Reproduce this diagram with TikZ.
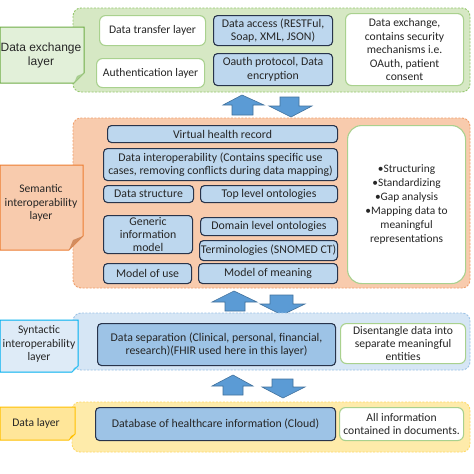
\documentclass[tikz,border=0pt]{standalone}
\usepackage{fontspec}
\setmainfont{Carlito}
\newfontfamily\arialf{Liberation Sans}
\definecolor{txt}{RGB}{38,38,38}
\definecolor{grfill}{RGB}{214,232,196}
\definecolor{grdash}{RGB}{150,200,110}
\definecolor{grlab}{RGB}{226,240,217}
\definecolor{grline}{RGB}{112,173,71}
\definecolor{whline}{RGB}{169,209,142}
\definecolor{orfill}{RGB}{248,203,173}
\definecolor{ordash}{RGB}{240,160,110}
\definecolor{orline}{RGB}{237,125,49}
\definecolor{orfold}{RGB}{210,140,95}
\definecolor{blfill}{RGB}{214,230,245}
\definecolor{bldash}{RGB}{157,195,230}
\definecolor{bllab}{RGB}{222,235,247}
\definecolor{blline}{RGB}{0,176,240}
\definecolor{ylfill}{RGB}{254,235,170}
\definecolor{yldash}{RGB}{255,217,102}
\definecolor{yllab}{RGB}{255,230,153}
\definecolor{ylline}{RGB}{255,192,0}
\definecolor{boxblue}{RGB}{189,215,238}
\definecolor{boxblue2}{RGB}{157,195,230}
\definecolor{boxline}{RGB}{40,52,75}
\definecolor{arrfill}{RGB}{91,155,213}
\definecolor{arrline}{RGB}{65,113,156}
\tikzset{
  cont/.style={rounded corners=8pt, line width=0.9pt, dash pattern=on 2pt off 1.5pt},
  bbox/.style={draw=boxline, fill=boxblue, rounded corners=4pt, line width=1.1pt, align=center, inner sep=1pt, anchor=north west, text=txt, font=\fontsize{11.8}{13.4}\selectfont},
  bbox2/.style={bbox, fill=boxblue2},
  wbox/.style={draw=whline, fill=white, rounded corners=6pt, line width=1.1pt, align=center, inner sep=1pt, anchor=north west, text=txt, font=\fontsize{11.6}{13.5}\selectfont},
  labtext/.style={align=center, text=txt, font=\fontsize{11.6}{13.5}\selectfont},
  blockarrow/.style={fill=arrfill, draw=arrline, line width=0.6pt, line join=miter}
}
\begin{document}
\begin{tikzpicture}[x=1pt,y=-1pt]
\useasboundingbox (0,0) rectangle (474,474);
\fill[white] (0,0) rectangle (474,474);

% ---------- Data exchange layer ----------
\draw[cont, draw=grdash, fill=grfill] (73,8) rectangle (470,92);
\draw[fill=grlab, draw=grline, line width=1pt] (0,27) -- (84,27) -- (84,73) -- (74,83) -- (0,83) -- cycle;
\fill[grline!60] (84,73) -- (74,83) -- (77,76) -- cycle;
\node[labtext, font=\arialf\fontsize{12}{14}\selectfont] (lab1) at (41,55) {Data exchange\\layer};

\node[wbox, minimum width=106pt, minimum height=30pt] (dtl) at (99,15) {Data transfer layer};
\node[wbox, minimum width=108pt, minimum height=29pt] (auth) at (96,58) {Authentication layer};
\node[bbox, minimum width=119pt, minimum height=30pt] (dacc) at (213,15) {Data access (RESTFul,\\Soap, XML, JSON)};
\node[bbox, minimum width=119pt, minimum height=32pt] (oauth) at (213,53) {Oauth protocol, Data\\encryption};
\node[wbox, minimum width=118pt, minimum height=72pt] (dex) at (345,13) {Data exchange,\\contains security\\mechanisms i.e.\\OAuth, patient\\consent};

% arrows 1
\draw[blockarrow] (242,95) -- (264,105) -- (253,105) -- (253,115) -- (232,115) -- (232,105) -- (223,105) -- cycle;
\draw[blockarrow] (280,97) -- (299,97) -- (299,106) -- (312,106) -- (291,117) -- (269,106) -- (280,106) -- cycle;

% ---------- Semantic layer ----------
\draw[cont, draw=ordash, fill=orfill] (73,118) rectangle (470,288);
\draw[fill=orfill, draw=orline, line width=1pt] (0,165) -- (83,165) -- (83,236) -- (69,250) -- (0,250) -- cycle;
\fill[orfold] (83,236) -- (69,250) -- (73,240) -- cycle;
\node[labtext] (lab2) at (41,203) {Semantic\\interoperability\\layer};

\node[bbox, minimum width=230pt, minimum height=17pt] (vhr) at (107,125) {Virtual health record};
\node[bbox, minimum width=234pt, minimum height=32pt] (dint) at (103,148) {Data interoperability (Contains specific use\\cases, removing conflicts during data mapping)};
\node[bbox, minimum width=90pt, minimum height=17pt] (dstr) at (103,185) {Data structure};
\node[bbox, minimum width=137pt, minimum height=17pt] (top) at (200,185) {Top level ontologies};
\node[bbox, minimum width=89pt, minimum height=38pt] (gim) at (103,215) {Generic\\information\\model};
\node[bbox, minimum width=137pt, minimum height=18pt] (dom) at (200,217) {Domain level ontologies};
\node[bbox, minimum width=138pt, minimum height=20pt] (term) at (199,240) {Terminologies (SNOMED CT)};
\node[bbox, minimum width=88pt, minimum height=20pt] (mou) at (103,263) {Model of use};
\node[bbox, minimum width=139pt, minimum height=20pt] (mom) at (198,263) {Model of meaning};
\node[wbox, rounded corners=14pt, minimum width=118pt, minimum height=158pt, font=\fontsize{11.4}{14}\selectfont] (sem) at (347,125) {•Structuring\\•Standardizing\\•Gap analysis\\•Mapping data to\\meaningful\\representations};

% arrows 2
\draw[blockarrow] (234,291) -- (257,302) -- (245,302) -- (245,311) -- (225,311) -- (225,302) -- (212,302) -- cycle;
\draw[blockarrow] (270,295) -- (293,295) -- (293,304) -- (305,304) -- (282,315) -- (260,304) -- (270,304) -- cycle;

% ---------- Syntactic layer ----------
\draw[cont, draw=bldash, fill=blfill] (73,313) rectangle (470,370);
\draw[fill=bllab, draw=blline, line width=1pt] (0,320) -- (78,320) -- (78,366) -- (72,372) -- (0,372) -- cycle;
\fill[blline!70] (78,366) -- (72,372) -- (74,368) -- cycle;
\node[labtext] (lab3) at (39,344) {Syntactic\\interoperability\\layer};

\node[bbox2, minimum width=238pt, minimum height=42pt] (dsep) at (97,323) {Data separation (Clinical, personal, financial,\\research)(FHIR used here in this layer)};
\node[wbox, minimum width=125pt, minimum height=40pt, font=\fontsize{11.6}{13}\selectfont] (dis) at (340,323) {Disentangle data into\\separate meaningful\\entities};

% arrows 3
\draw[blockarrow] (233,375) -- (253,386) -- (243,386) -- (243,395) -- (223,395) -- (223,386) -- (212,386) -- cycle;
\draw[blockarrow] (272,379) -- (293,379) -- (293,387) -- (305,387) -- (283,398) -- (262,387) -- (272,387) -- cycle;

% ---------- Data layer ----------
\draw[cont, draw=yldash, fill=ylfill] (72,402) rectangle (470,452);
\draw[fill=yllab, draw=ylline, line width=1pt] (0,407) -- (75,407) -- (75,434) -- (69,440) -- (0,440) -- cycle;
\fill[ylline] (75,434) -- (69,440) -- (71,436) -- cycle;
\node[labtext] (lab4) at (36,423) {Data layer};

\node[bbox2, minimum width=240pt, minimum height=33pt] (db) at (95,407) {Database of healthcare information (Cloud)};
\node[wbox, minimum width=124pt, minimum height=33pt, font=\fontsize{11.6}{13}\selectfont] (allinfo) at (339,407) {All information\\contained in documents.};
\end{tikzpicture}
\end{document}
